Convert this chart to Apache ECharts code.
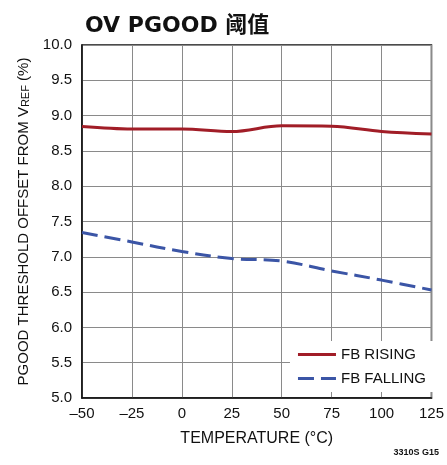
<!DOCTYPE html>
<html>
<head>
<meta charset="utf-8">
<style>
  html, body { margin: 0; padding: 0; background: #fff; }
  #chart { width: 447px; height: 465px; }
</style>
<script src="https://cdn.jsdelivr.net/npm/echarts@6/dist/echarts.min.js"></script>
</head>
<body>
<div id="chart"></div>
<script>
// Temperature sweep (°C) and measured OV PGOOD thresholds (% offset from VREF)
const temperatures = [-50, -25, 0, 25, 50, 75, 100, 125];
const fbRising  = [8.845, 8.81, 8.81, 8.775, 8.855, 8.85, 8.775, 8.74];
const fbFalling = [7.345, 7.21, 7.075, 6.975, 6.94, 6.80, 6.67, 6.53];
const xTicks = [-50, -25, 0, 25, 50, 75, 100, 125];
const yTicks = [5.0, 5.5, 6.0, 6.5, 7.0, 7.5, 8.0, 8.5, 9.0, 9.5, 10.0];

const FONT = '"Liberation Sans Narrow", "Liberation Sans", Arial, sans-serif';
const RED = '#a11d27';
const BLUE = '#3b55a6';
const DASH = [16, 7];

// Legend swatches: a solid bar and a two-dash bar
const ICON_SOLID = 'path://M0,0 H38 V3 H0 Z';
const ICON_DASHED = 'path://M0,0 H16 V3 H0 Z M23,0 H38 V3 H23 Z';

const chart = echarts.init(document.getElementById('chart'), null, { renderer: 'canvas' });

function pairs(ys) { return temperatures.map((t, i) => [t, ys[i]]); }

chart.setOption({
  animation: false,
  backgroundColor: '#fff',
  title: {
    text: 'OV PGOOD 阈值',
    left: 80, top: 10,
    textStyle: {
      fontFamily: '"DejaVu Sans", "Noto Sans CJK SC", sans-serif',
      fontWeight: 'bold', fontSize: 22, color: '#111'
    }
  },
  grid: {
    left: 82, right: 13, top: 45, bottom: 67,
    show: true, borderColor: '#111', borderWidth: 1.5, backgroundColor: 'transparent'
  },
  legend: {
    orient: 'vertical',
    right: 13, bottom: 73,
    padding: [6, 8, 6, 8],
    backgroundColor: '#fff',
    itemWidth: 38, itemHeight: 3, itemGap: 9,
    textStyle: { fontFamily: FONT, fontSize: 15, color: '#111', lineHeight: 14 },
    data: [
      { name: 'FB RISING', icon: ICON_SOLID, itemStyle: { color: RED } },
      { name: 'FB FALLING', icon: ICON_DASHED, itemStyle: { color: BLUE } }
    ]
  },
  xAxis: {
    type: 'value',
    min: -50, max: 125, interval: 25,
    name: 'TEMPERATURE (°C)',
    nameLocation: 'middle', nameGap: 33,
    nameTextStyle: { fontFamily: FONT, fontSize: 16, color: '#111' },
    axisLine: { show: true, onZero: false, lineStyle: { color: '#111', width: 1.5 } },
    axisTick: { show: false },
    axisLabel: {
      fontFamily: FONT, fontSize: 15, color: '#111', margin: 8,
      formatter: v => xTicks.includes(v) ? String(v).replace('-', '–') : ''
    },
    splitLine: { show: true, lineStyle: { color: '#8a8a8a', width: 1 } }
  },
  yAxis: {
    type: 'value',
    min: 5, max: 10, interval: 0.5,
    name: '{n|PGOOD THRESHOLD OFFSET FROM V}{s|REF}{n| (%)}',
    nameLocation: 'middle', nameGap: 50, nameRotate: 90,
    nameTextStyle: {
      fontFamily: FONT, fontSize: 15, color: '#111',
      rich: {
        n: { fontFamily: FONT, fontSize: 15, color: '#111' },
        s: { fontFamily: FONT, fontSize: 11, color: '#111', verticalAlign: 'bottom', padding: [6, 0, 0, 0] }
      }
    },
    axisLine: { show: true, onZero: false, lineStyle: { color: '#111', width: 1.5 } },
    axisTick: { show: false },
    axisLabel: {
      fontFamily: FONT, fontSize: 15, color: '#111', margin: 10,
      formatter: v => yTicks.some(t => Math.abs(t - v) < 1e-6) ? v.toFixed(1) : ''
    },
    splitLine: { show: true, lineStyle: { color: '#8a8a8a', width: 1 } }
  },
  series: [
    {
      name: 'FB RISING', type: 'line', data: pairs(fbRising),
      smooth: 0.35, symbol: 'none', color: RED,
      lineStyle: { color: RED, width: 3 }
    },
    {
      name: 'FB FALLING', type: 'line', data: pairs(fbFalling),
      smooth: 0.35, symbol: 'none', color: BLUE,
      lineStyle: { color: BLUE, width: 3, type: DASH }
    }
  ],
  graphic: [
    {
      type: 'text', right: 8, bottom: 8,
      style: { text: '3310S G15', font: 'bold 9px ' + FONT, fill: '#111' }
    }
  ]
});
</script>
</body>
</html>
